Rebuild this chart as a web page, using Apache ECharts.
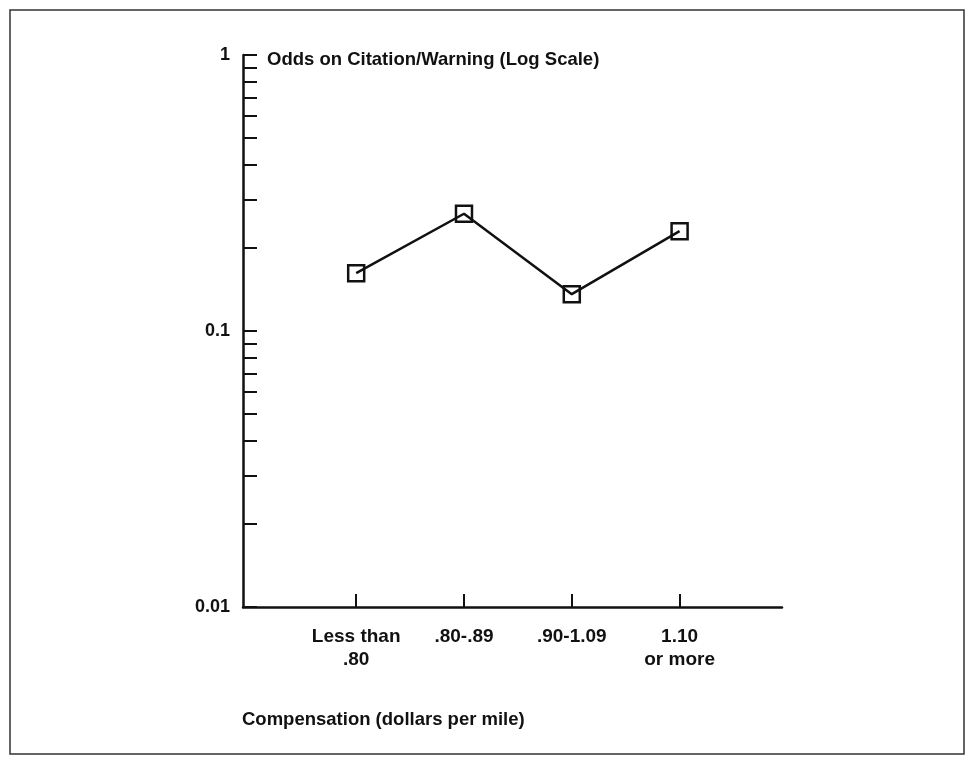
<!DOCTYPE html>
<html>
<head>
<meta charset="utf-8">
<script src="https://cdn.jsdelivr.net/npm/echarts@6/dist/echarts.min.js"></script>
<style>
  html, body { margin: 0; padding: 0; background: #fff; }
  #chart { width: 973px; height: 764px; }
</style>
</head>
<body>
<div id="chart"></div>
<script>
// ---- data ----
const categories = ['Less than\n.80', '.80-.89', '.90-1.09', '1.10\nor more'];
const odds = [0.162, 0.266, 0.136, 0.230];
const yTickLabels = ['0.01', '0.1', '1'];
const yMinorTicks = [0.02, 0.03, 0.04, 0.05, 0.06, 0.07, 0.08, 0.09, 0.2, 0.3, 0.4, 0.5, 0.6, 0.7, 0.8, 0.9];
const chartTitle = 'Odds on Citation/Warning (Log Scale)';
const xTitle = 'Compensation (dollars per mile)';

// ---- chart ----
const FONT = '"Liberation Sans", Arial, Helvetica, sans-serif';
const catPos = categories.map((c, i) => i + 1);
const seriesData = odds.map((v, i) => [catPos[i], v]);
const allYTicks = yTickLabels.map(Number).concat(yMinorTicks);

const chart = echarts.init(document.getElementById('chart'), null, { renderer: 'canvas' });
chart.setOption({
  backgroundColor: '#ffffff',
  animation: false,
  title: [
    { text: chartTitle, left: 267, top: 50, padding: 0,
      textStyle: { fontFamily: FONT, fontSize: 18.5, fontWeight: 'bold', color: '#111' } },
    { text: xTitle, left: 242, top: 710, padding: 0,
      textStyle: { fontFamily: FONT, fontSize: 18.5, fontWeight: 'bold', color: '#111' } }
  ],
  graphic: [
    { type: 'rect', shape: { x: 10, y: 10, width: 954, height: 744 },
      style: { fill: 'none', stroke: '#333', lineWidth: 1.5 } }
  ],
  grid: { left: 243, top: 55, width: 539, height: 552, containLabel: false },
  xAxis: {
    type: 'value', min: -0.05, max: 4.95,
    splitLine: { show: false },
    axisLine: { onZero: false, lineStyle: { color: '#111', width: 2.5 } },
    axisTick: { show: true, inside: true, length: 13, customValues: catPos,
      lineStyle: { color: '#111', width: 2 } },
    axisLabel: { customValues: catPos, margin: 18,
      formatter: v => categories[Math.round(v) - 1] || '',
      fontFamily: FONT, fontSize: 19, fontWeight: 'bold', color: '#111', lineHeight: 23 }
  },
  yAxis: {
    type: 'log', logBase: 10, min: 0.01, max: 1,
    splitLine: { show: false },
    minorTick: { show: false },
    axisLine: { onZero: false, lineStyle: { color: '#111', width: 2.5 } },
    axisTick: { show: true, inside: true, length: 14, customValues: allYTicks,
      lineStyle: { color: '#111', width: 2 } },
    axisLabel: { margin: 13,
      formatter: v => { const s = yTickLabels.find(t => Math.abs(Number(t) - v) < 1e-9); return s || ''; },
      fontFamily: FONT, fontSize: 18, fontWeight: 'bold', color: '#111' }
  },
  series: [{
    type: 'line',
    data: seriesData,
    symbol: 'rect', symbolSize: 16, showSymbol: true,
    lineStyle: { color: '#111', width: 2.5 },
    itemStyle: { color: 'rgba(0,0,0,0)', borderColor: '#111', borderWidth: 2.5 }
  }]
});
</script>
</body>
</html>
